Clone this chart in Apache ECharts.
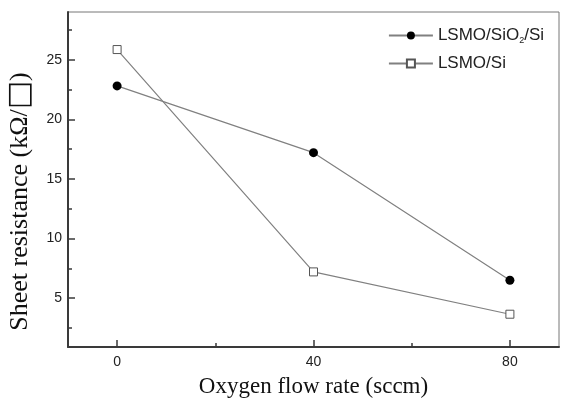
<!DOCTYPE html>
<html><head><meta charset="utf-8">
<script src="https://cdn.jsdelivr.net/npm/echarts@6/dist/echarts.min.js"></script>
<style>html,body{margin:0;padding:0;background:#fff}#c{width:561px;height:398px}</style>
</head><body><div id="c"></div>
<script>
const flowRates = [0, 40, 80];
const sio2Si = [22.8, 17.2, 6.5];
const si = [25.85, 7.2, 3.65];
const xLabels = [0, 40, 80];
const xMinor = [20, 60];
const yLabels = [5, 10, 15, 20, 25];
const yMinor = [2.5, 7.5, 12.5, 17.5, 22.5, 27.5];

const chart = echarts.init(document.getElementById('c'));
const axisCol = '#3a3a3a';
const X_MIN = -10, X_MAX = 90, Y_MIN = 0.9, Y_MAX = 29;
function xa(main) {
  return {
    type: 'value', min: X_MIN, max: X_MAX, position: 'bottom',
    name: main ? 'Oxygen flow rate (sccm)' : '', nameLocation: 'middle', nameGap: 28,
    nameTextStyle: { fontFamily: 'Liberation Serif', fontSize: 23, color: '#111' },
    axisLine: { show: main, onZero: false, lineStyle: { color: axisCol, width: 2 } },
    axisTick: { show: true, inside: true, length: main ? 7 : 4, customValues: main ? xLabels : xMinor, lineStyle: { color: axisCol, width: 1.5 } },
    axisLabel: { show: main, customValues: xLabels, margin: 8, fontFamily: 'Liberation Sans', fontSize: 14, color: '#222' },
    splitLine: { show: false }
  };
}
function ya(main) {
  return {
    type: 'value', min: Y_MIN, max: Y_MAX, position: 'left',
    name: main ? 'Sheet resistance (kΩ/{b|□})' : '', nameLocation: 'middle', nameGap: 30, nameRotate: 90,
    nameTextStyle: { fontFamily: 'Liberation Serif', fontSize: 26, color: '#111', padding: [0, 44, 0, 0],
      rich: { b: { fontFamily: 'DejaVu Sans', fontSize: 30, color: '#111' } } },
    axisLine: { show: main, onZero: false, lineStyle: { color: axisCol, width: 2 } },
    axisTick: { show: true, inside: true, length: main ? 7 : 4, customValues: main ? yLabels : yMinor, lineStyle: { color: axisCol, width: 1.5 } },
    axisLabel: { show: main, customValues: yLabels, margin: 6, fontFamily: 'Liberation Sans', fontSize: 14, color: '#222' },
    splitLine: { show: false }
  };
}
chart.setOption({
  animation: false,
  backgroundColor: '#fff',
  grid: { left: 68, top: 12, right: 2, bottom: 51, show: true, borderColor: '#777', borderWidth: 1, outerBoundsMode: 'none', containLabel: false },
  xAxis: [xa(true), xa(false)],
  yAxis: [ya(true), ya(false)],
  legend: {
    orient: 'vertical', right: 12, top: 22, itemWidth: 44, itemHeight: 10, itemGap: 10,
    textStyle: { fontFamily: 'Liberation Sans', fontSize: 17, color: '#222',
      rich: { sub: { fontSize: 9, fontFamily: 'Liberation Sans', color: '#222', padding: [10, 0, 0, 0] } } },
    formatter: function (n) { return n === 'LSMO/SiO2/Si' ? 'LSMO/SiO{sub|2}/Si' : n; },
    data: ['LSMO/SiO2/Si', 'LSMO/Si']
  },
  series: [
    { name: 'LSMO/SiO2/Si', type: 'line', xAxisIndex: 0, yAxisIndex: 0,
      data: flowRates.map((x, i) => [x, sio2Si[i]]),
      symbol: 'circle', symbolSize: 9,
      itemStyle: { color: '#000', borderColor: '#000', borderWidth: 0 },
      lineStyle: { color: '#808080', width: 1.2 } },
    { name: 'LSMO/Si', type: 'line', xAxisIndex: 0, yAxisIndex: 0,
      data: flowRates.map((x, i) => [x, si[i]]),
      symbol: 'rect', symbolSize: 8,
      itemStyle: { color: '#fff', borderColor: '#555', borderWidth: 1 },
      lineStyle: { color: '#808080', width: 1.2 } }
  ]
});
</script></body></html>
